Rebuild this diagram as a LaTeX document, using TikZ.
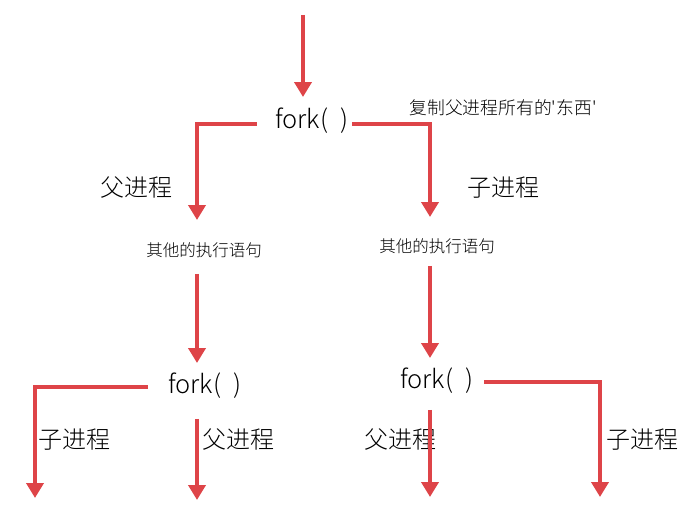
\documentclass[tikz,border=0pt]{standalone}
\usepackage{fontspec}
\setmainfont{Noto Sans CJK SC}[UprightFont={* Light}]
\usetikzlibrary{arrows.meta}
\definecolor{arrred}{RGB}{222,68,72}
\tikzset{
  arr/.style={draw=arrred, line width=4pt, -{Triangle[width=17pt,length=15pt]}, fill=none},
  forkbox/.style={font=\fontsize{25.5}{28}\selectfont, inner sep=2pt},
  biglabel/.style={font=\fontsize{24}{28}\selectfont, inner sep=1pt},
  stmt/.style={font=\fontsize{16.5}{20}\selectfont, inner sep=2pt},
  note/.style={font=\fontsize{17.8}{20}\selectfont, inner sep=1pt}
}
\begin{document}
\begin{tikzpicture}[x=1pt,y=-1pt]
\useasboundingbox (0,0) rectangle (694,519);
% nodes
\coordinate (in0) at (303,15);
\node[forkbox] (f1) at (312,121) {fork(\,\,\,)};
\node[note] (copy) at (503,108) {复制父进程所有的\textquotesingle 东西\textquotesingle};
\node[biglabel] (p1) at (136,188) {父进程};
\node[biglabel] (c1) at (503,188) {子进程};
\coordinate (e1) at (197,220);
\coordinate (e2) at (430,217);
\node[stmt] (s1) at (204,250) {其他的执行语句};
\node[stmt] (s2) at (437,246) {其他的执行语句};
\node[forkbox] (f2) at (205,386) {fork(\,\,\,)};
\node[forkbox] (f3) at (437,381) {fork(\,\,\,)};
\coordinate (e3) at (35,498);
\coordinate (e4) at (197,500);
\coordinate (e5) at (600,497);
\coordinate (e6) at (430,497);
\node[biglabel] (c2) at (74,440) {子进程};
\node[biglabel] (p2) at (238,440) {父进程};
\node[biglabel] (p3) at (400,440) {父进程};
\node[biglabel] (c3) at (642,440) {子进程};
% connectors
\draw[arr, shorten >=9pt] (in0) -- (f1.north -| in0);
\draw[arr, shorten <=16pt] ([yshift=-3pt]f1.west) -| (e1);
\draw[arr, shorten <=1pt] ([yshift=-3pt]f1.east) -| (e2);
\draw[arr, shorten <=14pt, shorten >=8pt] (s1.south -| e1) -- (f2.north -| e1);
\draw[arr, shorten <=10pt, shorten >=8pt] (s2.south -| e2) -- (f3.north -| e2);
\draw[arr, shorten <=18pt] ([yshift=-1pt]f2.west) -| (e3);
\draw[arr, shorten <=18pt] (f2.south -| e4) -- (e4);
\draw[arr, shorten <=8pt] ([yshift=-1pt]f3.east) -| (e5);
\draw[arr, shorten <=14pt] (f3.south -| e6) -- (e6);
\end{tikzpicture}
\end{document}
